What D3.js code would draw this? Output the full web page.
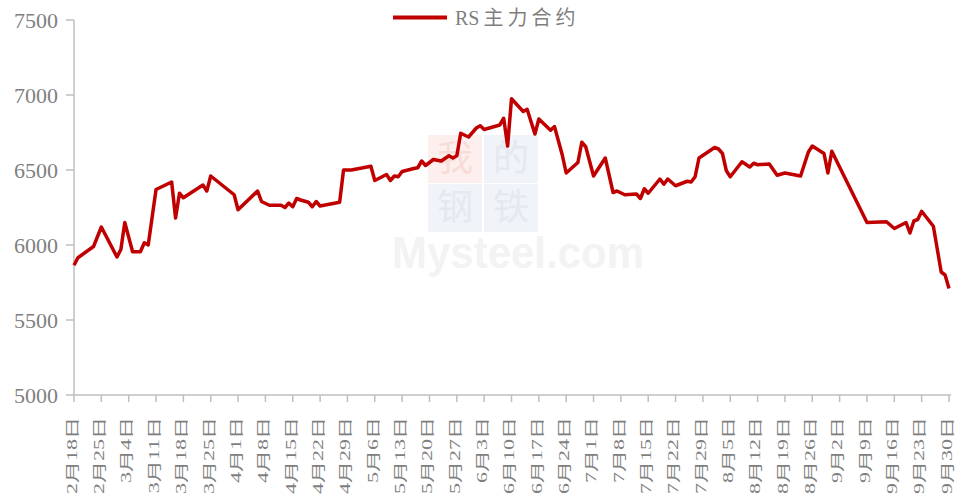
<!DOCTYPE html>
<html>
<head>
<meta charset="utf-8">
<script src="https://cdn.jsdelivr.net/npm/d3@7"></script>
<style>
  body { margin: 0; background: #fff; }
  svg { display: block; }
</style>
</head>
<body>
<svg id="chart"></svg>
<script>
// RS main contract daily close
const dates = [
  "2022-02-18","2022-02-19","2022-02-23","2022-02-25","2022-03-01","2022-03-02","2022-03-03","2022-03-05","2022-03-07",
  "2022-03-08","2022-03-09","2022-03-11","2022-03-15","2022-03-16","2022-03-17","2022-03-18","2022-03-23",
  "2022-03-24","2022-03-25","2022-03-31","2022-04-01","2022-04-06","2022-04-07","2022-04-09","2022-04-12",
  "2022-04-13","2022-04-14","2022-04-15","2022-04-16","2022-04-17","2022-04-19","2022-04-20","2022-04-21",
  "2022-04-22","2022-04-27","2022-04-28","2022-04-30","2022-05-05","2022-05-06","2022-05-09","2022-05-10",
  "2022-05-11","2022-05-12","2022-05-13","2022-05-16","2022-05-17","2022-05-18","2022-05-19","2022-05-21",
  "2022-05-23","2022-05-25","2022-05-26","2022-05-27","2022-05-28","2022-05-30","2022-06-01","2022-06-02",
  "2022-06-03","2022-06-07","2022-06-08","2022-06-09","2022-06-10","2022-06-13","2022-06-14","2022-06-16",
  "2022-06-17","2022-06-20","2022-06-21","2022-06-23","2022-06-24","2022-06-27","2022-06-28","2022-06-29",
  "2022-07-01","2022-07-04","2022-07-06","2022-07-07","2022-07-09","2022-07-12","2022-07-13","2022-07-14",
  "2022-07-15","2022-07-18","2022-07-19","2022-07-20","2022-07-22","2022-07-25","2022-07-26","2022-07-27",
  "2022-07-28","2022-08-01","2022-08-02","2022-08-03","2022-08-04","2022-08-05","2022-08-08","2022-08-10",
  "2022-08-11","2022-08-12","2022-08-15","2022-08-17","2022-08-19","2022-08-23","2022-08-25","2022-08-26",
  "2022-08-29","2022-08-30","2022-08-31","2022-09-09","2022-09-14","2022-09-16","2022-09-19","2022-09-20",
  "2022-09-21","2022-09-22","2022-09-23","2022-09-26","2022-09-28","2022-09-29","2022-09-30"
];
const values = [
  5865,5915,5990,6120,5920,5970,6150,5955,5955,
  6015,6000,6370,6420,6180,6345,6315,6400,
  6360,6460,6335,6235,6360,6290,6265,6265,
  6250,6280,6255,6310,6300,6285,6255,6290,
  6260,6285,6500,6500,6525,6430,6470,6430,
  6460,6455,6490,6510,6515,6560,6530,6570,
  6560,6595,6580,6595,6745,6720,6780,6795,
  6770,6800,6845,6660,6975,6890,6905,6740,
  6840,6765,6790,6600,6480,6550,6685,6655,
  6460,6580,6350,6360,6335,6340,6310,6375,
  6345,6440,6405,6440,6395,6425,6420,6455,
  6580,6650,6640,6610,6495,6455,6555,6520,
  6545,6535,6540,6465,6480,6460,6620,6660,
  6610,6480,6625,6150,6155,6110,6150,6080,
  6160,6170,6225,6125,5820,5800,5710
];

// weekly tick dates on the x axis
const tickDates = [
  "2022-02-18","2022-02-25","2022-03-04","2022-03-11","2022-03-18","2022-03-25","2022-04-01",
  "2022-04-08","2022-04-15","2022-04-22","2022-04-29","2022-05-06","2022-05-13","2022-05-20",
  "2022-05-27","2022-06-03","2022-06-10","2022-06-17","2022-06-24","2022-07-01","2022-07-08",
  "2022-07-15","2022-07-22","2022-07-29","2022-08-05","2022-08-12","2022-08-19","2022-08-26",
  "2022-09-02","2022-09-09","2022-09-16","2022-09-23","2022-09-30"
];
const yTicks = [5000, 5500, 6000, 6500, 7000, 7500];
const seriesName = "RS主力合约";

const WIDTH = 960, HEIGHT = 499;
const LEFT = 74, RIGHT = 949, TOP = 20, BOTTOM = 395;
const RED = "#c00000", AXIS = "#bfbfbf", TEXT = "#7f7f7f";

const parse = d3.timeParse("%Y-%m-%d");
const points = dates.map((d, i) => ({ date: parse(d), value: values[i] }));
const ticks = tickDates.map(parse);

const svg = d3.select("#chart").attr("width", WIDTH).attr("height", HEIGHT);

const x = d3.scaleTime().domain([ticks[0], ticks[ticks.length - 1]]).range([LEFT, RIGHT]);
const y = d3.scaleLinear().domain([5000, 7500]).range([BOTTOM, TOP]);

// faint watermark behind the plot
const wm = svg.append("g").attr("class", "watermark");
const boxes = [
  { ch: "我", x: 428, y: 135, fill: "#fdefed", color: "#f8dcd8" },
  { ch: "的", x: 484, y: 135, fill: "#f0f3f8", color: "#e4e9f1" },
  { ch: "钢", x: 428, y: 184, fill: "#f0f3f8", color: "#e4e9f1" },
  { ch: "铁", x: 484, y: 184, fill: "#f0f3f8", color: "#e4e9f1" }
];
boxes.forEach(b => {
  wm.append("rect").attr("x", b.x).attr("y", b.y).attr("width", 54).attr("height", 48).attr("fill", b.fill);
  wm.append("text").attr("x", b.x + 27).attr("y", b.y + 36)
    .attr("text-anchor", "middle")
    .attr("font-family", "'Noto Sans CJK SC', sans-serif")
    .attr("font-size", 36).attr("fill", b.color).text(b.ch);
});
wm.append("text").attr("x", 392).attr("y", 268)
  .attr("font-family", "'Liberation Sans', Arial, sans-serif")
  .attr("font-weight", "bold").attr("font-size", 45)
  .attr("textLength", 252).attr("lengthAdjust", "spacingAndGlyphs")
  .attr("fill", "#f3f3f3").text("Mysteel.com");

// y axis
const yAxis = svg.append("g");
yAxis.append("line").attr("x1", LEFT).attr("x2", LEFT).attr("y1", TOP).attr("y2", BOTTOM)
  .attr("stroke", AXIS).attr("stroke-width", 1.5);
yAxis.selectAll(".yt").data(yTicks).enter().append("line")
  .attr("x1", LEFT - 8).attr("x2", LEFT).attr("y1", d => y(d)).attr("y2", d => y(d))
  .attr("stroke", AXIS).attr("stroke-width", 1.5);
yAxis.selectAll(".yl").data(yTicks).enter().append("text")
  .attr("x", LEFT - 16).attr("y", d => y(d)).attr("dy", "0.35em")
  .attr("text-anchor", "end")
  .attr("font-family", "'Liberation Serif', 'Times New Roman', serif")
  .attr("font-size", 22).attr("fill", TEXT)
  .text(d => d);

// x axis
const fmt = d => (d.getMonth() + 1) + "月" + d.getDate() + "日";
const xAxis = svg.append("g");
xAxis.append("line").attr("x1", LEFT).attr("x2", RIGHT + 2).attr("y1", BOTTOM).attr("y2", BOTTOM)
  .attr("stroke", AXIS).attr("stroke-width", 1.5);
xAxis.selectAll(".xt").data(ticks).enter().append("line")
  .attr("x1", d => x(d)).attr("x2", d => x(d)).attr("y1", BOTTOM).attr("y2", BOTTOM + 7)
  .attr("stroke", AXIS).attr("stroke-width", 1.5);
xAxis.selectAll(".xl").data(ticks).enter().append("text")
  .attr("transform", d => `translate(${x(d) - 2},${BOTTOM + 22}) rotate(-90) scale(1,0.62)`)
  .attr("text-anchor", "end").attr("dy", "0.35em")
  .attr("font-family", "'Liberation Serif', 'Times New Roman', 'Noto Sans CJK SC', serif")
  .attr("font-size", 22).attr("fill", TEXT)
  .text(fmt);

// series line
const line = d3.line().x(d => x(d.date)).y(d => y(d.value));
svg.append("path").datum(points)
  .attr("d", line)
  .attr("fill", "none").attr("stroke", RED).attr("stroke-width", 3.5)
  .attr("stroke-linejoin", "round");

// legend
const lg = svg.append("g");
lg.append("line").attr("x1", 393).attr("x2", 447).attr("y1", 17.5).attr("y2", 17.5)
  .attr("stroke", RED).attr("stroke-width", 4);
lg.append("text").attr("x", 455).attr("y", 17.5).attr("dy", "0.35em")
  .attr("font-family", "'Liberation Serif', 'Times New Roman', 'Noto Sans CJK SC', serif")
  .attr("font-size", 20).attr("fill", TEXT)
  .text("RS")
  .append("tspan").attr("letter-spacing", 4).attr("dx", 4).text(seriesName.slice(2));
</script>
</body>
</html>
